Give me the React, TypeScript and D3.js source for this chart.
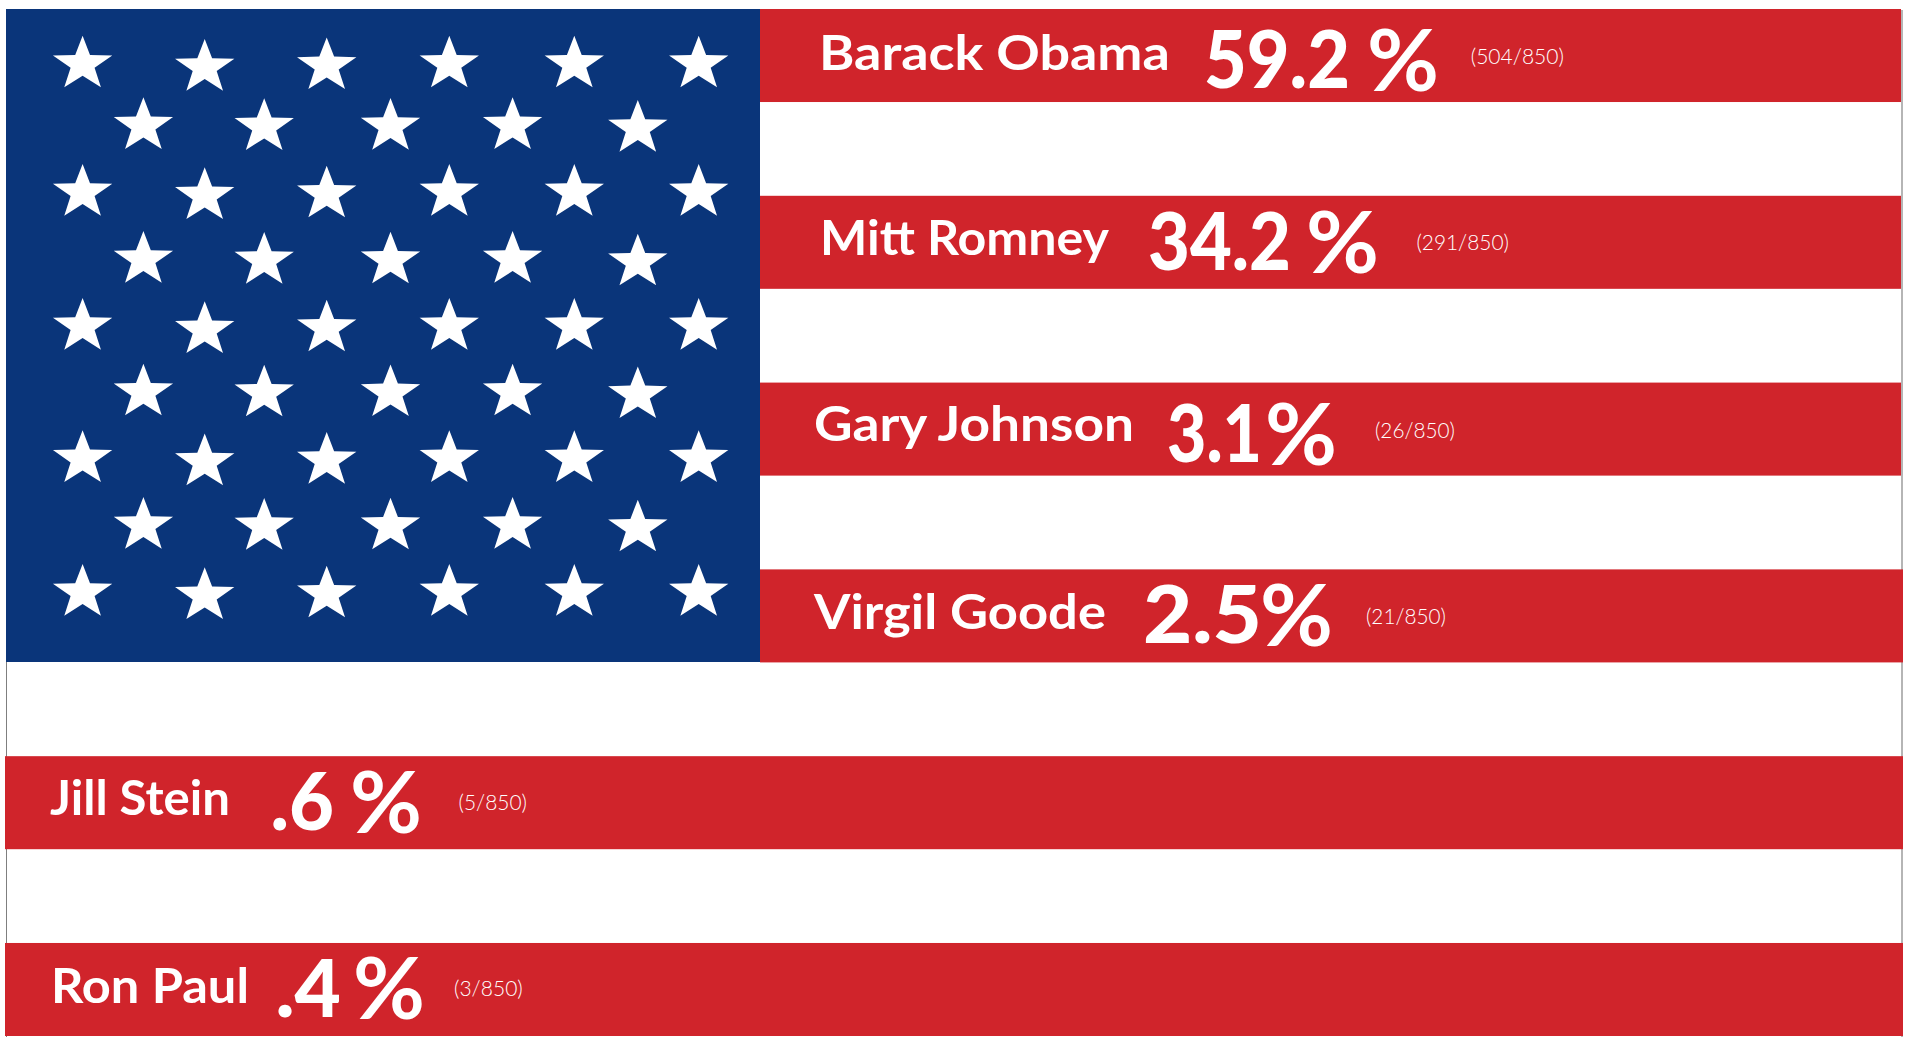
import React, { useLayoutEffect, useRef } from "react";
import * as d3 from "d3";

// Straw poll results, one red stripe per candidate.
const candidates = ["Barack Obama", "Mitt Romney", "Gary Johnson", "Virgil Goode", "Jill Stein", "Ron Paul"];
const shares = ["59.2", "34.2", "3.1", "2.5", ".6", ".4"];
const votes = [504, 291, 26, 21, 5, 3];
const totalVotes = 850;

// Star field: the columns of the long and short rows, and the row tops.
const longRowColumns = [82.6, 204.7, 326.7, 449.3, 574.3, 698.7];
const shortRowColumns = [143.4, 264.2, 390.5, 512.6, 637.8];
const rowTops = [35.7, 97.3, 164, 231, 298, 363.7, 430.3, 497, 564];
const longRowDrift = [0, 3.3, 1.7, 0, 0, 0];
const shortRowDrift = [0, 1, 0.7, 0, 2.7];

const W = 1913;
const H = 1037;
const RED = "#d0242b";
const BLUE = "#0a357a";
const UNION = { left: 6, right: 760, top: 9, bottom: 662 };
const RIGHT_EDGE = 1902;
const FULL_LEFT = 5;

// Text placement per stripe, relative to the stripe's top edge.
const nameBox = [[819, 1170, 61], [820, 1109, 59.7], [814, 1134, 58], [814, 1106, 60], [50, 230, 59], [51, 249, 59.7]];
const shareBox = [[1204, 1350, 79], [1148, 1291, 74], [1167, 1262, 79], [1143, 1262, 74], [270.5, 334, 74], [275.5, 341, 74]];
const percentBox = [[1367, 1439, 82], [1306, 1379, 77], [1265, 1337, 82], [1260, 1333, 77], [350, 422, 77], [353, 425, 76.5]];
const countBox = [[1470.7, 1564, 54.5], [1416.4, 1509, 54.5], [1375, 1455, 55], [1366, 1446, 54.5], [458.5, 527, 54], [454, 522.8, 53]];

const stripeY = d3.scaleBand<string>().domain(candidates).range([9, 1036]).paddingInner(0.502);

// Five-pointed star, flattened slightly, from alternating outer and inner radii.
const STAR_OUTER = 31.2;
const STAR_INNER = 12.6;
const STAR_SQUASH = 0.915;
const starPoints: [number, number][] = d3.range(10).map((i) => [(i * Math.PI) / 5, i % 2 ? STAR_INNER : STAR_OUTER]);
const starPath = d3.lineRadial().curve(d3.curveLinearClosed)(starPoints) as string;
const starTopOffset = STAR_OUTER * STAR_SQUASH;

const labelFont = "Lato, 'Noto Sans', sans-serif";

// White label stretched horizontally so it spans its box exactly.
function FittedText(props: { box: number[]; base: number; size: number; weight: number; text: string }) {
  const { box, base, size, weight, text } = props;
  const node = useRef<SVGTextElement>(null);
  useLayoutEffect(() => {
    const el = node.current;
    if (!el) return;
    const stretch = (box[1] - box[0]) / el.getComputedTextLength();
    el.setAttribute("transform", `translate(${box[0]},${base + box[2]}) scale(${stretch},1)`);
  });
  return (
    <text
      ref={node}
      transform={`translate(${box[0]},${base + box[2]})`}
      fontFamily={labelFont}
      fontSize={size}
      fontWeight={weight}
      fill="#fff"
    >
      {text}
    </text>
  );
}

export default function App() {
  const rows = rowTops.map((top, r) => {
    const long = r % 2 === 0;
    const xs = long ? longRowColumns : shortRowColumns;
    const drift = long ? longRowDrift : shortRowDrift;
    return xs.map((x, c) => ({ x, y: top + drift[c] + starTopOffset, key: `${r}-${c}` }));
  });

  return (
    <svg
      width={W}
      height={H}
      viewBox={`0 0 ${W} ${H}`}
      style={{ position: "fixed", left: 0, top: 0, display: "block", background: "#fff" }}
    >
      <line x1={RIGHT_EDGE} x2={RIGHT_EDGE} y1={10} y2={H} stroke="#b5b5b5" strokeWidth={2} />
      <line x1={6.5} x2={6.5} y1={UNION.bottom} y2={H} stroke="#7f7f7f" strokeWidth={1} />

      {candidates.map((name, i) => {
        const left = i <= 3 ? UNION.right : FULL_LEFT;
        return (
          <rect
            key={name}
            x={left}
            y={stripeY(name)}
            width={(i < 3 ? 1901 : 1903) - left}
            height={stripeY.bandwidth()}
            fill={RED}
          />
        );
      })}

      <rect
        x={UNION.left}
        y={UNION.top}
        width={UNION.right - UNION.left}
        height={UNION.bottom - UNION.top}
        fill={BLUE}
      />
      {rows.flat().map((s) => (
        <path
          key={s.key}
          d={starPath}
          transform={`translate(${s.x},${s.y}) scale(1,${STAR_SQUASH})`}
          fill="#fff"
        />
      ))}

      {candidates.map((name, i) => {
        const base = stripeY(name) as number;
        return (
          <g key={name}>
            <FittedText box={nameBox[i]} base={base} size={48} weight={700} text={name} />
            <FittedText box={shareBox[i]} base={base} size={80} weight={900} text={shares[i]} />
            <FittedText box={percentBox[i]} base={base} size={86} weight={700} text="%" />
            <FittedText box={countBox[i]} base={base} size={22} weight={300} text={`(${votes[i]}/${totalVotes})`} />
          </g>
        );
      })}
    </svg>
  );
}
